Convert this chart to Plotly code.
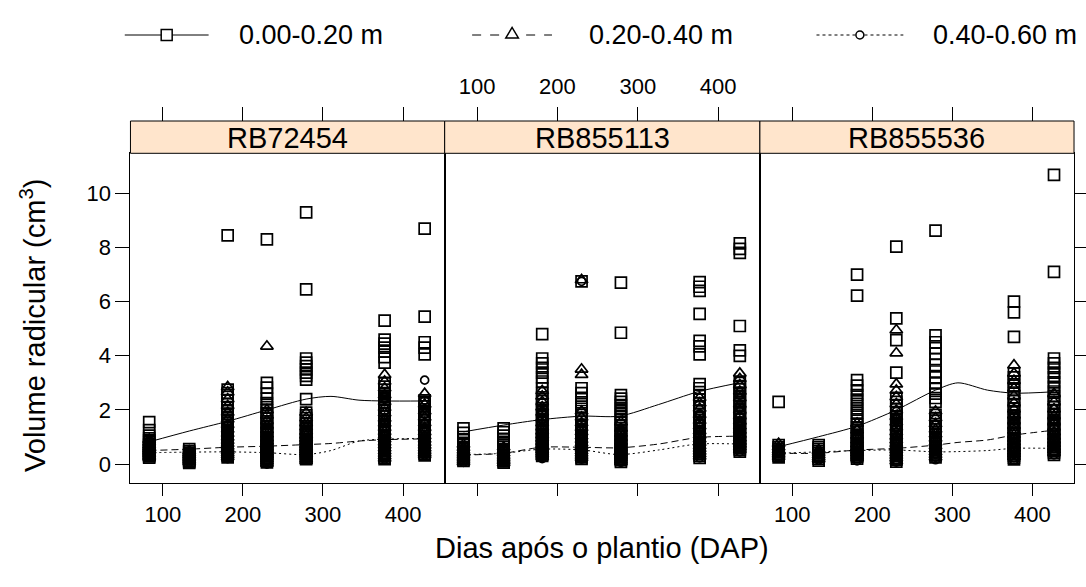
import plotly.graph_objects as go

W, H = 1086, 587

# ---------------- data ----------------
days = [83, 133, 181, 230, 279, 377, 427]
cultivars = ["RB72454", "RB855113", "RB855536"]
depths = ["0.00-0.20 m", "0.20-0.40 m", "0.40-0.60 m"]
x_ticks = [100, 200, 300, 400]
y_ticks = [0, 2, 4, 6, 8, 10]

# RB72454
rb72454_d1 = [
    [1.55, 1.25, 1.05, 0.95, 0.88, 0.8, 0.74, 0.68, 0.62, 0.57, 0.52, 0.48, 0.44, 0.4, 0.36, 0.32, 0.28, 0.24],
    [0.55, 0.48, 0.42, 0.37, 0.32, 0.27, 0.22, 0.17, 0.12, 0.08, 0.04],
    [8.45, 2.75, 2.62, 2.48, 2.36, 2.22, 2.1, 1.98, 1.86, 1.74, 1.63, 1.52, 1.43, 1.35, 1.27, 1.2, 1.13, 1.06, 1.0, 0.94, 0.88, 0.82, 0.76, 0.7, 0.65, 0.6, 0.55, 0.5, 0.45, 0.4, 0.35, 0.3, 0.25],
    [8.3, 3.0, 2.82, 2.6, 2.42, 2.25, 2.1, 1.98, 1.88, 1.78, 1.68, 1.58, 1.49, 1.4, 1.31, 1.23, 1.15, 1.07, 1.0, 0.93, 0.86, 0.79, 0.72, 0.66, 0.6, 0.54, 0.48, 0.42, 0.36, 0.3, 0.24, 0.18, 0.12, 0.06],
    [9.3, 6.45, 3.9, 3.75, 3.62, 3.5, 3.38, 3.26, 3.12, 2.4, 1.9, 1.8, 1.7, 1.6, 1.5, 1.41, 1.32, 1.24, 1.16, 1.08, 1.0, 0.93, 0.86, 0.79, 0.72, 0.66, 0.6, 0.54, 0.48, 0.42, 0.36, 0.3, 0.24, 0.18],
    [5.3, 4.6, 4.45, 4.3, 4.15, 3.95, 3.75, 2.98, 2.86, 2.74, 2.62, 2.5, 2.39, 2.28, 2.17, 2.06, 1.96, 1.86, 1.76, 1.66, 1.57, 1.48, 1.39, 1.3, 1.22, 1.14, 1.06, 0.98, 0.9, 0.83, 0.76, 0.69, 0.62, 0.55, 0.48, 0.42, 0.36, 0.3, 0.24, 0.18],
    [8.7, 5.45, 4.5, 4.3, 4.05, 2.35, 2.24, 2.13, 2.02, 1.92, 1.82, 1.72, 1.62, 1.53, 1.44, 1.35, 1.27, 1.19, 1.11, 1.03, 0.96, 0.89, 0.82, 0.75, 0.68, 0.62, 0.56, 0.5, 0.44, 0.38, 0.32],
]
rb72454_d2 = [
    [0.9, 0.8, 0.7, 0.62, 0.55, 0.48, 0.42, 0.36, 0.3, 0.25],
    [0.48, 0.4, 0.33, 0.26, 0.2, 0.14, 0.08],
    [2.85, 2.65, 2.4, 2.15, 1.9, 1.65, 1.45, 1.28, 1.12, 0.98, 0.86, 0.75, 0.65, 0.56, 0.48, 0.4, 0.33, 0.26],
    [4.35, 2.0, 1.8, 1.6, 1.42, 1.26, 1.1, 0.96, 0.84, 0.72, 0.62, 0.52, 0.43, 0.34, 0.26, 0.18, 0.1, 0.02],
    [1.9, 1.7, 1.52, 1.36, 1.2, 1.06, 0.94, 0.82, 0.71, 0.61, 0.52, 0.43, 0.35, 0.27, 0.19, 0.12],
    [3.3, 3.05, 2.8, 2.55, 2.3, 2.08, 1.88, 1.68, 1.5, 1.34, 1.19, 1.05, 0.92, 0.8, 0.69, 0.58, 0.48, 0.38, 0.29, 0.2],
    [2.6, 2.2, 1.95, 1.72, 1.52, 1.34, 1.18, 1.04, 0.91, 0.79, 0.68, 0.58, 0.49, 0.41, 0.34],
]
rb72454_d3 = [
    [0.85, 0.72, 0.62, 0.54, 0.47, 0.41, 0.35, 0.3],
    [0.42, 0.34, 0.26, 0.19, 0.12, 0.06],
    [1.45, 1.2, 1.02, 0.88, 0.76, 0.65, 0.56, 0.48, 0.41, 0.34, 0.27, 0.2],
    [1.25, 1.02, 0.85, 0.71, 0.59, 0.49, 0.4, 0.32, 0.24, 0.16, 0.08, 0.0],
    [1.15, 0.92, 0.76, 0.63, 0.52, 0.43, 0.35, 0.28, 0.21, 0.14],
    [2.45, 1.95, 1.6, 1.32, 1.1, 0.92, 0.77, 0.64, 0.53, 0.43, 0.34, 0.26, 0.18],
    [3.1, 2.35, 1.85, 1.5, 1.24, 1.03, 0.86, 0.72, 0.6, 0.5, 0.41, 0.33],
]

# RB855113
rb855113_d1 = [
    [1.32, 1.15, 1.0, 0.88, 0.78, 0.7, 0.62, 0.55, 0.48, 0.42, 0.36, 0.3, 0.24, 0.18, 0.12],
    [1.32, 1.18, 1.05, 0.93, 0.82, 0.72, 0.63, 0.55, 0.48, 0.41, 0.34, 0.28, 0.22, 0.16, 0.1, 0.05],
    [4.8, 3.9, 3.72, 3.55, 3.38, 3.2, 3.05, 2.8, 2.62, 2.46, 2.32, 2.19, 2.07, 1.95, 1.84, 1.73, 1.63, 1.53, 1.44, 1.35, 1.26, 1.18, 1.1, 1.02, 0.95, 0.88, 0.81, 0.74, 0.67, 0.6, 0.54, 0.48, 0.42, 0.36, 0.3],
    [6.75, 2.8, 2.62, 2.45, 2.28, 2.12, 1.96, 1.82, 1.69, 1.57, 1.46, 1.36, 1.26, 1.17, 1.08, 1.0, 0.92, 0.84, 0.77, 0.7, 0.63, 0.56, 0.49, 0.43, 0.37, 0.31, 0.25, 0.19],
    [6.7, 4.85, 2.55, 2.42, 2.3, 2.18, 2.06, 1.95, 1.84, 1.73, 1.62, 1.52, 1.42, 1.33, 1.24, 1.15, 1.07, 0.99, 0.91, 0.84, 0.77, 0.7, 0.63, 0.56, 0.5, 0.44, 0.38, 0.32, 0.26, 0.2, 0.14, 0.08],
    [6.72, 6.55, 6.4, 5.55, 4.55, 4.35, 4.05, 2.95, 2.8, 2.66, 2.52, 2.38, 2.24, 2.1, 1.97, 1.85, 1.73, 1.62, 1.51, 1.41, 1.31, 1.22, 1.13, 1.04, 0.96, 0.88, 0.8, 0.72, 0.65, 0.58, 0.51, 0.44, 0.37, 0.3, 0.23],
    [8.15, 7.95, 7.8, 5.1, 4.2, 4.0, 3.0, 2.88, 2.76, 2.64, 2.52, 2.4, 2.28, 2.16, 2.05, 1.94, 1.83, 1.73, 1.63, 1.53, 1.44, 1.35, 1.26, 1.17, 1.09, 1.01, 0.93, 0.86, 0.79, 0.72, 0.65, 0.58, 0.52, 0.46],
]
rb855113_d2 = [
    [0.72, 0.6, 0.5, 0.42, 0.34, 0.27, 0.2, 0.13, 0.07],
    [0.62, 0.5, 0.4, 0.31, 0.23, 0.16, 0.1, 0.04],
    [2.7, 2.5, 2.3, 2.1, 1.9, 1.7, 1.52, 1.36, 1.21, 1.07, 0.94, 0.82, 0.71, 0.61, 0.52, 0.43, 0.35, 0.27],
    [6.8, 3.5, 3.3, 1.95, 1.72, 1.52, 1.34, 1.18, 1.03, 0.9, 0.78, 0.67, 0.57, 0.48, 0.39, 0.31, 0.23],
    [1.55, 1.32, 1.13, 0.97, 0.83, 0.7, 0.59, 0.49, 0.4, 0.31, 0.23, 0.15, 0.08],
    [2.45, 2.25, 2.05, 1.82, 1.6, 1.4, 1.22, 1.06, 0.92, 0.79, 0.67, 0.56, 0.46, 0.37, 0.28],
    [3.35, 3.15, 2.92, 2.68, 2.44, 2.2, 1.98, 1.77, 1.58, 1.4, 1.24, 1.09, 0.95, 0.83, 0.72, 0.62, 0.53],
]
rb855113_d3 = [
    [0.6, 0.48, 0.38, 0.29, 0.21, 0.13, 0.06],
    [0.52, 0.4, 0.3, 0.21, 0.13, 0.06],
    [1.95, 1.62, 1.36, 1.15, 0.98, 0.83, 0.7, 0.58, 0.47, 0.37, 0.28, 0.2],
    [6.75, 1.35, 1.1, 0.9, 0.74, 0.6, 0.48, 0.37, 0.27, 0.18],
    [1.25, 1.0, 0.81, 0.66, 0.53, 0.42, 0.32, 0.23, 0.14, 0.06],
    [1.85, 1.5, 1.22, 1.0, 0.82, 0.67, 0.54, 0.42, 0.32, 0.23],
    [2.55, 2.1, 1.75, 1.46, 1.22, 1.02, 0.85, 0.7, 0.57, 0.45],
]

# RB855536
rb855536_d1 = [
    [2.3, 0.7, 0.62, 0.55, 0.49, 0.43, 0.37, 0.31, 0.25],
    [0.7, 0.62, 0.55, 0.48, 0.41, 0.34, 0.27, 0.2, 0.13],
    [7.0, 6.22, 3.1, 2.9, 2.72, 2.55, 2.38, 2.22, 2.06, 1.9, 1.75, 1.6, 1.46, 1.36, 1.27, 1.18, 1.09, 1.01, 0.93, 0.85, 0.78, 0.71, 0.64, 0.57, 0.5, 0.44, 0.38, 0.32, 0.26, 0.2],
    [8.03, 5.38, 4.58, 3.38, 2.45, 2.3, 2.16, 2.02, 1.89, 1.76, 1.64, 1.52, 1.41, 1.3, 1.2, 1.1, 1.01, 0.92, 0.83, 0.75, 0.67, 0.59, 0.51, 0.44, 0.37, 0.3, 0.23, 0.16, 0.09],
    [8.62, 4.75, 4.5, 4.28, 4.08, 3.88, 3.66, 3.42, 3.2, 2.98, 2.78, 2.6, 2.44, 2.3, 1.82, 1.7, 1.59, 1.48, 1.38, 1.28, 1.18, 1.09, 1.0, 0.91, 0.83, 0.75, 0.67, 0.6, 0.53, 0.46, 0.39, 0.32, 0.25],
    [6.0, 5.6, 4.7, 3.35, 3.2, 3.05, 2.9, 2.75, 2.6, 2.46, 2.32, 2.18, 2.05, 1.92, 1.8, 1.68, 1.56, 1.45, 1.34, 1.24, 1.14, 1.04, 0.95, 0.86, 0.77, 0.69, 0.61, 0.53, 0.45, 0.38, 0.31, 0.24, 0.17],
    [10.68, 7.1, 3.9, 3.72, 3.55, 3.38, 3.2, 3.02, 2.85, 2.68, 2.52, 2.37, 2.23, 2.1, 1.97, 1.85, 1.73, 1.62, 1.51, 1.41, 1.31, 1.21, 1.12, 1.03, 0.94, 0.86, 0.78, 0.7, 0.62, 0.55, 0.48, 0.41, 0.34],
]
rb855536_d2 = [
    [0.75, 0.62, 0.52, 0.43, 0.35, 0.27],
    [0.52, 0.42, 0.33, 0.25, 0.18],
    [1.5, 1.25, 1.05, 0.88, 0.74, 0.61, 0.5, 0.4, 0.31, 0.23],
    [4.95, 4.1, 2.95, 2.72, 2.48, 2.22, 1.98, 1.75, 1.54, 1.35, 1.18, 1.02, 0.88, 0.75, 0.63, 0.52, 0.41, 0.31, 0.21, 0.11],
    [1.95, 1.7, 1.48, 1.28, 1.1, 0.94, 0.8, 0.67, 0.55, 0.44, 0.34, 0.25],
    [3.65, 3.35, 3.08, 2.8, 2.52, 2.26, 2.02, 1.8, 1.6, 1.41, 1.24, 1.08, 0.94, 0.81, 0.69, 0.58, 0.47, 0.37, 0.27],
    [2.6, 2.3, 2.03, 1.78, 1.56, 1.36, 1.18, 1.02, 0.88, 0.75, 0.63, 0.52, 0.42],
]
rb855536_d3 = [
    [0.6, 0.48, 0.38, 0.29, 0.22],
    [0.45, 0.34, 0.24, 0.15],
    [1.25, 0.98, 0.78, 0.62, 0.49, 0.38, 0.28, 0.19, 0.12],
    [1.65, 1.3, 1.03, 0.82, 0.65, 0.5, 0.37, 0.26, 0.16, 0.07],
    [1.45, 1.15, 0.92, 0.74, 0.59, 0.46, 0.35, 0.25, 0.16],
    [1.85, 1.48, 1.19, 0.96, 0.77, 0.61, 0.47, 0.35, 0.24, 0.14],
    [2.05, 1.66, 1.35, 1.1, 0.9, 0.73, 0.58, 0.45, 0.34],
]

# smoothed (loess) curves
rb72454_s_days = [83, 133, 181, 230, 279, 310, 345, 377, 427]
rb72454_s1 = [0.82, 1.22, 1.58, 2.0, 2.4, 2.5, 2.36, 2.33, 2.33]
rb72454_s2 = [0.5, 0.55, 0.62, 0.66, 0.72, 0.76, 0.85, 0.9, 0.93]
rb72454_s3 = [0.42, 0.44, 0.45, 0.42, 0.35, 0.5, 0.85, 0.92, 0.95]

rb855113_s_days = [83, 133, 180, 231, 277, 326, 375, 426]
rb855113_s1 = [1.19, 1.44, 1.64, 1.77, 1.77, 2.2, 2.67, 3.0]
rb855113_s2 = [0.33, 0.4, 0.62, 0.62, 0.6, 0.74, 0.98, 1.03]
rb855113_s3 = [0.35, 0.4, 0.55, 0.52, 0.35, 0.52, 0.74, 0.74]

rb855536_s_days = [83, 133, 181, 230, 279, 307, 344, 377, 427]
rb855536_s1 = [0.64, 1.01, 1.4, 2.0, 2.73, 3.0, 2.73, 2.62, 2.67]
rb855536_s2 = [0.4, 0.4, 0.52, 0.58, 0.7, 0.8, 0.89, 1.07, 1.25]
rb855536_s3 = [0.4, 0.45, 0.5, 0.52, 0.45, 0.46, 0.5, 0.58, 0.58]

panels = [
    (rb72454_d1, rb72454_d2, rb72454_d3, rb72454_s_days, rb72454_s1, rb72454_s2, rb72454_s3),
    (rb855113_d1, rb855113_d2, rb855113_d3, rb855113_s_days, rb855113_s1, rb855113_s2, rb855113_s3),
    (rb855536_d1, rb855536_d2, rb855536_d3, rb855536_s_days, rb855536_s1, rb855536_s2, rb855536_s3),
]

# ---------------- styling ----------------
FONT = "Liberation Sans, Arial, sans-serif"
symbols = ["square-open", "triangle-up-open", "circle-open"]
msizes = [11, 11, 8]
dashes = ["solid", "7px,4px", "2px,3px"]

XR = [59.6, 452.0]
YR = [-0.70, 11.48]

def px(xp):
    return xp / W

def py(yp):
    return 1 - yp / H

panel_x = [(130.7, 445.5), (445.5, 761.3), (761.3, 1076.0)]
panel_top, panel_bot, strip_top = 153.3, 483.0, 121.0

fig = go.Figure()
suffix = ["", "2", "3"]

for p, (d1, d2, d3, sd, s1, s2, s3) in enumerate(panels):
    xa, ya = "x" + suffix[p], "y" + suffix[p]
    for g, grp in enumerate([d1, d2, d3]):
        xs, ys = [], []
        for c, vals in enumerate(grp):
            xs += [days[c]] * len(vals)
            ys += vals
        fig.add_trace(go.Scatter(
            x=xs, y=ys, mode="markers", xaxis=xa, yaxis=ya,
            marker=dict(symbol=symbols[g], size=msizes[g], color="black",
                        line=dict(color="black", width=1.7)),
            showlegend=False, hoverinfo="skip"))
    for g, sv in enumerate([s1, s2, s3]):
        fig.add_trace(go.Scatter(
            x=sd, y=sv, mode="lines", xaxis=xa, yaxis=ya,
            line=dict(color="black", width=1, dash=dashes[g], shape="spline", smoothing=0.8),
            showlegend=False, hoverinfo="skip"))

# dummy traces to make overlay axes render
for xa, ya in [("x4", "y"), ("x5", "y2"), ("x6", "y3"), ("x3", "y4")]:
    fig.add_trace(go.Scatter(x=[days[0]], y=[y_ticks[0]], xaxis=xa, yaxis=ya, mode="markers",
                             marker=dict(opacity=0), showlegend=False, hoverinfo="skip"))

tickfont = dict(family=FONT, size=22, color="black")
layout = dict(
    width=W, height=H, margin=dict(l=0, r=0, t=0, b=0),
    paper_bgcolor="white", plot_bgcolor="white", showlegend=False,
    font=dict(family=FONT, color="black"),
)
for p in range(3):
    s = suffix[p]
    layout["xaxis" + s] = dict(
        domain=[px(panel_x[p][0]), px(panel_x[p][1])], range=XR, anchor="y" + s,
        showline=True, linecolor="black", linewidth=1, mirror=True,
        ticks="outside", ticklen=12, tickwidth=1, tickcolor="black",
        tickvals=x_ticks, showticklabels=(p != 1), tickfont=tickfont,
        showgrid=False, zeroline=False, fixedrange=True)
    layout["yaxis" + s] = dict(
        domain=[py(panel_bot), py(panel_top)], range=YR, anchor="x" + s,
        showline=True, linecolor="black", linewidth=1, mirror=True,
        ticks="outside" if p == 0 else "", ticklen=14, tickwidth=1, tickcolor="black",
        tickvals=y_ticks, showticklabels=(p == 0), tickfont=tickfont,
        showgrid=False, zeroline=False, fixedrange=True)
    if p > 0:
        layout["yaxis" + s]["matches"] = "y"
# top axes above strips
for p, s in enumerate(["4", "5", "6"]):
    layout["xaxis" + s] = dict(
        overlaying="x" + suffix[p], side="top", anchor="free", position=py(strip_top),
        range=XR, showline=False, ticks="outside", ticklen=14, tickwidth=1, tickcolor="black",
        tickvals=x_ticks, showticklabels=(p == 1), tickfont=tickfont, ticklabelstandoff=4,
        showgrid=False, zeroline=False, fixedrange=True)
# right axis on last panel
layout["yaxis4"] = dict(
    overlaying="y3", side="right", anchor="x3", range=YR, showline=False,
    ticks="outside", ticklen=12, tickwidth=1, tickcolor="black",
    tickvals=y_ticks, showticklabels=False, showgrid=False, zeroline=False, fixedrange=True)

shapes, annotations = [], []
for p in range(3):
    x0, x1 = panel_x[p]
    shapes.append(dict(type="rect", xref="paper", yref="paper",
                       x0=px(x0), x1=px(x1), y0=py(panel_top), y1=py(strip_top),
                       fillcolor="#FFE5CC", line=dict(color="black", width=1), layer="above"))
    annotations.append(dict(text=cultivars[p], xref="paper", yref="paper",
                            x=px((x0 + x1) / 2), y=py((panel_top + strip_top) / 2 + 1),
                            showarrow=False, xanchor="center", yanchor="middle",
                            font=dict(family=FONT, size=29, color="black")))

# axis titles
annotations.append(dict(text="Dias após o plantio (DAP)", xref="paper", yref="paper",
                        x=px(603), y=py(548), showarrow=False, xanchor="center", yanchor="middle",
                        font=dict(family=FONT, size=29, color="black")))
annotations.append(dict(text="Volume radicular (cm<sup>3</sup>)", xref="paper", yref="paper",
                        x=px(33), y=py(325), showarrow=False, textangle=-90,
                        xanchor="center", yanchor="middle",
                        font=dict(family=FONT, size=29, color="black")))

# key (legend) at top
key_y = 35
key_items = [(125, 209, 237), (473, 553, 588), (818, 905, 933)]
for g, (l0, l1, tx) in enumerate(key_items):
    mid = (l0 + l1) / 2
    shapes.append(dict(type="line", xref="paper", yref="paper", x0=px(l0), x1=px(l1),
                       y0=py(key_y), y1=py(key_y),
                       line=dict(color="black", width=1,
                                 dash=["solid", "dash", "dot"][g])))
    if g == 0:
        shapes.append(dict(type="rect", xref="paper", yref="paper",
                           x0=px(mid - 5.5), x1=px(mid + 5.5), y0=py(key_y + 5.5), y1=py(key_y - 5.5),
                           fillcolor="white", line=dict(color="black", width=1.5)))
    elif g == 1:
        path = "M {:.4f},{:.4f} L {:.4f},{:.4f} L {:.4f},{:.4f} Z".format(
            px(mid - 6.3), py(key_y + 3), px(mid + 6.3), py(key_y + 3), px(mid), py(key_y - 7.5))
        shapes.append(dict(type="path", xref="paper", yref="paper", path=path,
                           fillcolor="white", line=dict(color="black", width=1.5)))
    else:
        shapes.append(dict(type="circle", xref="paper", yref="paper",
                           x0=px(mid - 4), x1=px(mid + 4), y0=py(key_y + 4), y1=py(key_y - 4),
                           fillcolor="white", line=dict(color="black", width=1.5)))
    annotations.append(dict(text=depths[g], xref="paper", yref="paper", x=px(tx), y=py(key_y),
                            showarrow=False, xanchor="left", yanchor="middle",
                            font=dict(family=FONT, size=27, color="black")))

layout["shapes"] = shapes
layout["annotations"] = annotations
fig.update_layout(**layout)
fig.write_html("out.html")
